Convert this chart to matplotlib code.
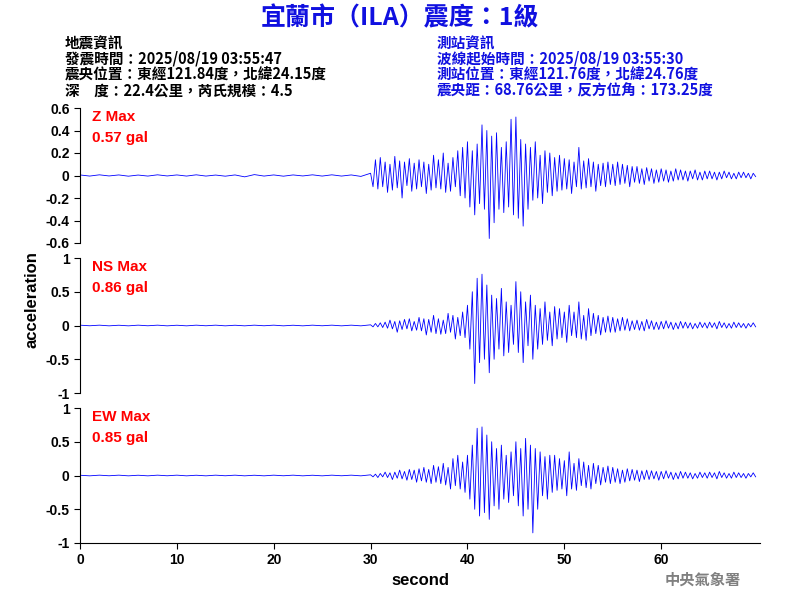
import numpy as np
import matplotlib
matplotlib.use("Agg")
import matplotlib.pyplot as plt

plt.rcParams['font.family'] = ['Liberation Sans', 'Noto Sans CJK TC', 'DejaVu Sans']

pre_z = [0.005,-0.005,0.006,-0.004,0.005,-0.006,0.004,-0.005,0.006,-0.004,0.005,-0.005,0.006,-0.005,0.004,-0.006,0.005,-0.012,0.008,-0.005,0.005,-0.006,0.005,-0.004,0.006,-0.005,0.006,-0.005,0.005,-0.008]
pre_ns = [0.005,-0.004,0.005,-0.005,0.004,-0.005,0.005,-0.004,0.005,-0.005,0.004,-0.005,0.005,-0.004,0.005,-0.005,0.004,-0.005,0.005,-0.004,0.005,-0.005,0.004,-0.005,0.005,-0.004,0.005,-0.005,0.005,-0.005]
pre_ew = [0.004,-0.005,0.005,-0.004,0.005,-0.005,0.004,-0.005,0.005,-0.004,0.005,-0.005,0.004,-0.005,0.005,-0.004,0.005,-0.005,0.004,-0.005,0.005,-0.004,0.005,-0.005,0.004,-0.005,0.005,-0.004,0.005,-0.005]

z_vals = [0.02,-0.1,0.14,-0.12,0.16,-0.1,0.12,-0.15,0.1,-0.13,0.17,-0.11,0.13,-0.2,0.12,-0.09,0.15,-0.14,0.11,-0.12,
0.14,-0.1,0.12,-0.16,0.1,-0.13,0.18,-0.11,0.14,-0.12,0.2,-0.15,0.11,-0.14,0.16,-0.1,0.22,-0.18,0.25,-0.2,
0.3,-0.28,0.22,-0.35,0.28,-0.25,0.45,-0.3,0.4,-0.56,0.35,-0.42,0.38,-0.3,0.25,-0.33,0.3,-0.28,0.5,-0.35,
0.52,-0.38,0.32,-0.45,0.28,-0.3,0.25,-0.22,0.3,-0.2,0.18,-0.25,0.22,-0.15,0.2,-0.18,0.16,-0.14,0.18,-0.13,
0.15,-0.12,0.14,-0.16,0.12,-0.1,0.25,-0.12,0.13,-0.11,0.15,-0.1,0.12,-0.14,0.1,-0.09,0.11,-0.1,0.12,-0.08,
0.1,-0.09,0.12,-0.08,0.1,-0.07,0.09,-0.1,0.08,-0.06,0.08,-0.07,0.06,-0.08,0.07,-0.05,0.06,-0.07,0.05,-0.06,
0.06,-0.05,0.05,-0.06,0.04,-0.05,0.06,-0.04,0.05,-0.04,0.04,-0.05,0.04,-0.03,0.05,-0.04,0.03,-0.04,0.04,-0.03,
0.04,-0.03,0.03,-0.04,0.03,-0.03,0.04,-0.02,0.03,-0.03,0.02,-0.03,0.03,-0.02,0.03,-0.02,0.02,-0.03,0.02,-0.01]

ns_vals = [0.01,-0.02,0.03,-0.02,0.04,-0.03,0.05,-0.04,0.08,-0.05,0.06,-0.1,0.07,-0.06,0.09,-0.05,0.1,-0.08,0.06,-0.07,
0.12,-0.08,0.1,-0.14,0.09,-0.1,0.15,-0.12,0.1,-0.13,0.08,-0.12,0.18,-0.1,0.15,-0.2,0.12,-0.15,0.2,-0.18,
0.3,-0.35,0.5,-0.86,0.7,-0.55,0.76,-0.5,0.6,-0.7,0.45,-0.5,0.4,-0.35,0.55,-0.45,0.35,-0.4,0.3,-0.28,
0.65,-0.4,0.5,-0.55,0.35,-0.3,0.45,-0.5,0.3,-0.35,0.25,-0.28,0.35,-0.22,0.2,-0.3,0.28,-0.2,0.25,-0.18,
0.2,-0.25,0.3,-0.15,0.2,-0.18,0.35,-0.2,0.15,-0.22,0.25,-0.15,0.18,-0.12,0.15,-0.14,0.12,-0.1,0.14,-0.1,
0.12,-0.1,0.1,-0.08,0.12,-0.07,0.1,-0.08,0.07,-0.06,0.08,-0.07,0.06,-0.08,0.09,-0.05,0.07,-0.06,0.05,-0.06,
0.06,-0.05,0.07,-0.04,0.05,-0.06,0.04,-0.05,0.06,-0.04,0.05,-0.04,0.04,-0.05,0.03,-0.04,0.05,-0.03,0.04,-0.04,
0.05,-0.03,0.04,-0.05,0.06,-0.03,0.04,-0.04,0.03,-0.04,0.05,-0.03,0.04,-0.03,0.03,-0.04,0.03,-0.02,0.04,-0.02]

ew_vals = [0.01,-0.02,0.02,-0.03,0.03,-0.02,0.05,-0.03,0.04,-0.06,0.05,-0.04,0.08,-0.05,0.06,-0.07,0.09,-0.06,0.08,-0.1,
0.1,-0.08,0.12,-0.1,0.09,-0.12,0.15,-0.1,0.13,-0.12,0.18,-0.14,0.12,-0.2,0.25,-0.15,0.3,-0.2,0.2,-0.25,
0.3,-0.35,0.45,-0.5,0.7,-0.6,0.72,-0.55,0.6,-0.65,0.5,-0.45,0.4,-0.5,0.45,-0.35,0.3,-0.4,0.35,-0.3,
0.5,-0.45,0.4,-0.6,0.55,-0.5,0.45,-0.85,0.4,-0.5,0.35,-0.3,0.28,-0.35,0.3,-0.25,0.3,-0.22,0.25,-0.2,
0.22,-0.3,0.35,-0.2,0.18,-0.22,0.25,-0.15,0.2,-0.18,0.15,-0.2,0.18,-0.12,0.15,-0.14,0.12,-0.1,0.14,-0.12,
0.12,-0.1,0.1,-0.12,0.08,-0.1,0.1,-0.08,0.09,-0.07,0.08,-0.09,0.07,-0.06,0.08,-0.06,0.07,-0.05,0.06,-0.07,
0.06,-0.05,0.07,-0.04,0.05,-0.06,0.04,-0.05,0.06,-0.04,0.05,-0.04,0.04,-0.05,0.03,-0.04,0.05,-0.03,0.04,-0.04,
0.05,-0.03,0.04,-0.05,0.06,-0.03,0.04,-0.04,0.03,-0.04,0.05,-0.03,0.04,-0.03,0.03,-0.04,0.03,-0.02,0.04,-0.02]

channels = ["Z Max", "NS Max", "EW Max"]
max_labels = ["0.57 gal", "0.86 gal", "0.85 gal"]
z_ticks = [0.6, 0.4, 0.2, 0, -0.2, -0.4, -0.6]
z_ticklabels = ["0.6", "0.4", "0.2", "0", "-0.2", "-0.4", "-0.6"]
h_ticks = [1, 0.5, 0, -0.5, -1]
h_ticklabels = ["1", "0.5", "0", "-0.5", "-1"]
x_ticks = [0, 10, 20, 30, 40, 50, 60]

cjk = ['Noto Sans CJK TC', 'DejaVu Sans']
fig = plt.figure(figsize=(8, 6), dpi=100)
bottoms = [0.595, 0.345, 0.095]
series = [(pre_z, z_vals), (pre_ns, ns_vals), (pre_ew, ew_vals)]
for i, (pre, post) in enumerate(series):
    ax = fig.add_axes([0.1, bottoms[i], 0.85, 0.225])
    t = np.concatenate([np.arange(len(pre)) * 1.0, 30 + 0.25 * np.arange(len(post))])
    y = np.concatenate([pre, post])
    ax.plot(t, y, color='blue', lw=0.6)
    ax.set_xlim(0, 70.2)
    if i == 0:
        ax.set_ylim(-0.6, 0.6); ax.set_yticks(z_ticks); ax.set_yticklabels(z_ticklabels)
    else:
        ax.set_ylim(-1, 1); ax.set_yticks(h_ticks); ax.set_yticklabels(h_ticklabels)
    for s in ['top', 'right']:
        ax.spines[s].set_visible(False)
    ax.tick_params(labelsize=10, length=4)
    for lab in ax.get_yticklabels():
        lab.set_fontweight('bold')
    if i < 2:
        ax.spines['bottom'].set_visible(False)
        ax.set_xticks([])
    else:
        ax.set_xticks(x_ticks)
        for lab in ax.get_xticklabels():
            lab.set_fontweight('bold')
        ax.set_xlabel("second", fontsize=12, fontweight='bold')
    ax.text(0.018, 0.93, channels[i], transform=ax.transAxes, color='red', fontsize=11, fontweight='bold', va='center')
    ax.text(0.018, 0.78, max_labels[i], transform=ax.transAxes, color='red', fontsize=11, fontweight='bold', va='center')

fig.text(0.04, 0.5, "acceleration", rotation=90, ha='center', va='center', fontsize=12, fontweight='bold')
fig.text(0.5, 0.97, "宜蘭市（ILA）震度：1級", ha='center', va='center', color='#1010e0', fontsize=18, fontweight='bold', family=cjk)
left = ["地震資訊", "發震時間：2025/08/19 03:55:47", "震央位置：東經121.84度，北緯24.15度", "深　度：22.4公里，芮氏規模：4.5"]
right = ["測站資訊", "波線起始時間：2025/08/19 03:55:30", "測站位置：東經121.76度，北緯24.76度", "震央距：68.76公里，反方位角：173.25度"]
for k in range(4):
    yy = 1 - (43 + 16 * k) / 600
    fig.text(65 / 800, yy, left[k], fontsize=10.5, va='center', fontweight='bold', family=cjk)
    fig.text(437 / 800, yy, right[k], fontsize=10.5, va='center', color='#1010e0', fontweight='bold', family=cjk)
fig.text(703 / 800, 1 - 580 / 600, "中央氣象署", fontsize=11, color='gray', ha='center', va='center', fontweight='bold', family=cjk)
fig.savefig("out.png", dpi=100)
